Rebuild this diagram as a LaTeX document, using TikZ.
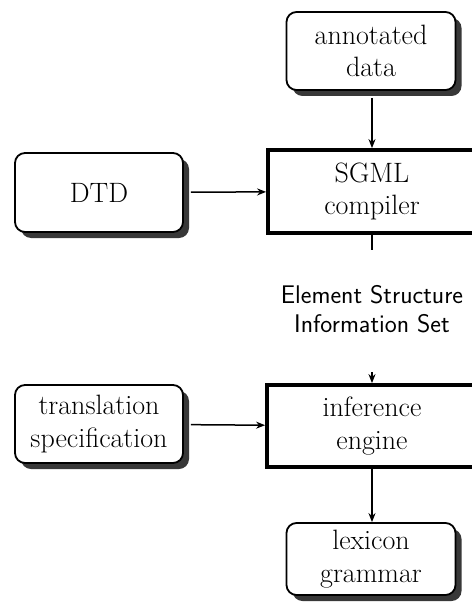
\documentclass[tikz,border=0pt]{standalone}
\usetikzlibrary{shadows,arrows.meta}
\begin{document}
\begin{tikzpicture}[x=1pt,y=-1pt,
  txt/.style={font=\fontsize{28}{32.5}\selectfont, align=center, inner sep=0pt},
  source/.style={txt, draw, line width=1.8pt, rounded corners=10pt, fill=white,
    drop shadow={shadow xshift=6pt, shadow yshift=-6pt, fill=black!78, opacity=1}},
  stage/.style={txt, draw, line width=3.8pt, fill=white},
  flow/.style={line width=1.5pt, -{Stealth[length=9pt,width=7pt]}},
  lbl/.style={font=\sffamily\fontsize{25.5}{28.5}\selectfont, align=center, inner sep=0pt}]
\useasboundingbox (0,0) rectangle (471,607);

% input boxes with shadows
\node[source, minimum width=169pt, minimum height=78pt] (ann) at (371,51) {annotated\\data};
\node[source, minimum width=168pt, minimum height=79pt] (dtd) at (99,192.5) {DTD};
\node[source, minimum width=168pt, minimum height=78pt] (trans) at (99,424) {translation\\specification};
\node[source, minimum width=169pt, minimum height=72pt] (lex) at (371,559) {lexicon\\grammar};

% processing stages
\node[stage, minimum width=208pt, minimum height=83pt] (sgml) at (372,191.5) {SGML\\compiler};
\node[stage, minimum width=210pt, minimum height=82pt] (inf) at (372,426) {inference\\engine};

% intermediate result
\node[lbl] (esis) at (372,309) {Element Structure\\Information Set};
\coordinate (esisTop) at (372,250);
\coordinate (esisBot) at (372,372);

% connectors
\draw[flow, shorten <=7pt] (sgml.north |- ann.south) -- (sgml.north);
\draw[flow, shorten <=7pt] (dtd) -- (sgml);
\draw[line width=1.5pt] (sgml) -- (esisTop);
\draw[flow] (esisBot) -- (inf);
\draw[flow, shorten <=7pt] (trans) -- (inf);
\draw[flow] (inf.south) -- (inf.south |- lex.north);
\end{tikzpicture}
\end{document}
